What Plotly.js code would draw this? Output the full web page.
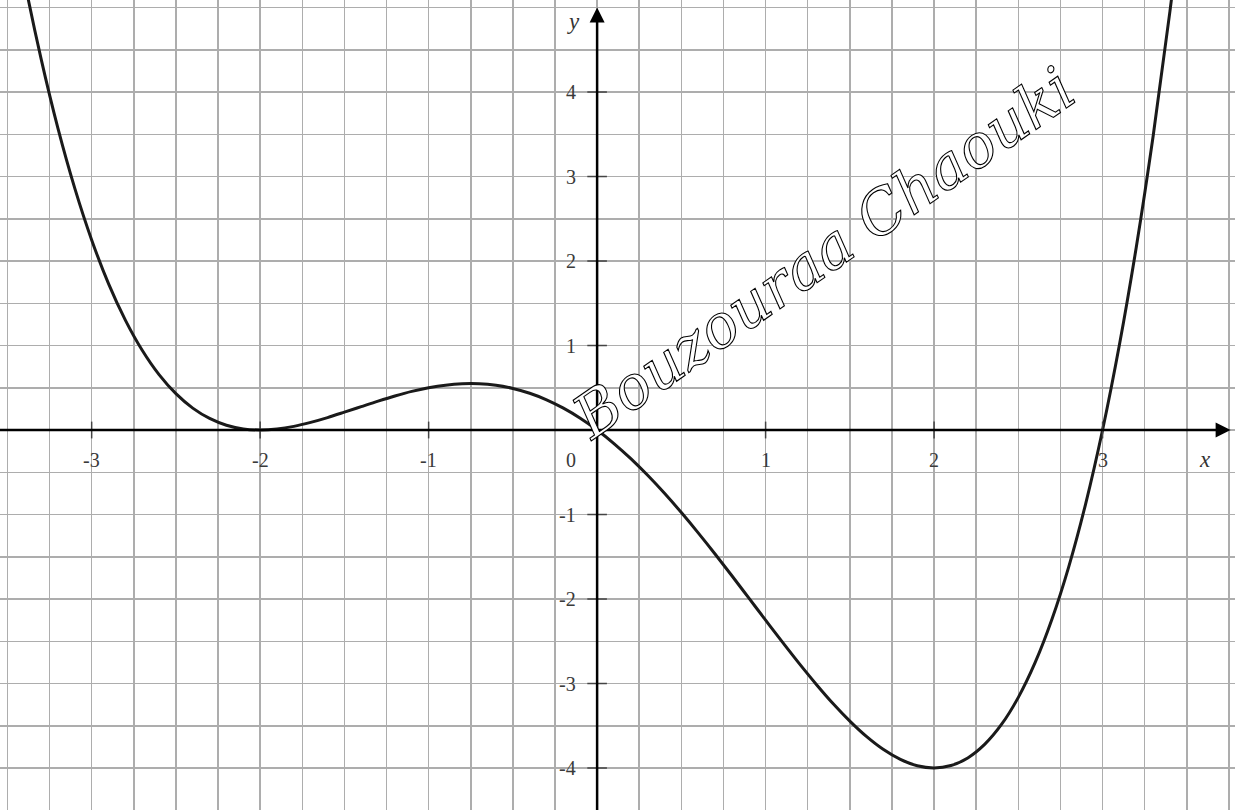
<!DOCTYPE html>
<html>
<head>
<meta charset="utf-8">
<script src="https://cdn.plot.ly/plotly-3.0.1.min.js"></script>
<style>
html,body{margin:0;padding:0;background:#fff;}
#chart{width:1235px;height:810px;}
</style>
</head>
<body>
<div id="chart"></div>
<script>
// Curve values
const curveX = [-3.5, -3.4, -3.3, -3.2, -3.1, -3.0, -2.9, -2.8, -2.7, -2.6, -2.5, -2.4, -2.3, -2.2, -2.1, -2.0,
                -1.9, -1.8, -1.7, -1.6, -1.5, -1.4, -1.3, -1.2, -1.1, -1.0, -0.9, -0.8, -0.7, -0.6, -0.5, -0.4, -0.3, -0.2, -0.1, 0.0,
                0.1, 0.2, 0.3, 0.4, 0.5, 0.6, 0.7, 0.8, 0.9, 1.0, 1.1, 1.2, 1.3, 1.4, 1.5, 1.6, 1.7, 1.8, 1.9, 2.0,
                2.1, 2.2, 2.3, 2.4, 2.5, 2.6, 2.7, 2.8, 2.9, 3.0, 3.1, 3.2, 3.3, 3.4, 3.5];
const curveY = [6.40, 5.33, 4.392, 3.57, 2.860, 2.25, 1.732, 1.30, 0.943, 0.655, 0.430, 0.259, 0.137, 0.057, 0.013, 0.0,
                0.012, 0.043, 0.090, 0.147, 0.211, 0.277, 0.342, 0.403, 0.457, 0.50, 0.531, 0.547, 0.547, 0.529, 0.492, 0.435, 0.358, 0.259, 0.140, 0.0,
                -0.160, -0.339, -0.536, -0.749, -0.977, -1.217, -1.467, -1.725, -1.987, -2.25, -2.511, -2.765, -3.008, -3.237, -3.445, -3.629, -3.782, -3.899, -3.974, -4.0,
                -3.971, -3.881, -3.721, -3.485, -3.164, -2.751, -2.237, -1.613, -0.870, 0.0, 1.008, 2.163, 3.476, 4.957, 6.62];

// Tick labels
const xTickVals = [-3, -2, -1, 1, 2, 3];
const xTickText = ['-3', '-2', '-1', '1', '2', '3'];
const yTickVals = [4, 3, 2, 1, -1, -2, -3, -4];
const yTickText = ['4', '3', '2', '1', '-1', '-2', '-3', '-4'];
const originLabel = '0';
const xAxisLabel = 'x';
const yAxisLabel = 'y';
const watermark = 'Bouzouraa Chaouki';

const labelFont = {family: 'Liberation Serif, Times New Roman, serif', size: 20, color: '#3a3a3a'};

const traces = [
  {
    x: curveX, y: curveY, type: 'scatter', mode: 'lines',
    line: {color: '#1a1a1a', width: 3, shape: 'spline', smoothing: 1},
    hoverinfo: 'skip', cliponaxis: true
  },
  {
    x: xTickVals, y: xTickVals.map(() => 0), type: 'scatter', mode: 'markers',
    marker: {symbol: 'line-ns', size: 12, line: {color: '#444', width: 1.5}},
    hoverinfo: 'skip'
  },
  {
    x: yTickVals.map(() => 0), y: yTickVals, type: 'scatter', mode: 'markers',
    marker: {symbol: 'line-ew', size: 14, line: {color: '#444', width: 1.5}},
    hoverinfo: 'skip'
  }
];

const annotations = [];
xTickVals.forEach((v, i) => annotations.push({
  x: v, y: 0, xref: 'x', yref: 'y', text: xTickText[i], showarrow: false,
  xanchor: 'center', yanchor: 'middle', yshift: -30, font: labelFont
}));
yTickVals.forEach((v, i) => annotations.push({
  x: 0, y: v, xref: 'x', yref: 'y', text: yTickText[i], showarrow: false,
  xanchor: 'right', yanchor: 'middle', xshift: -19, font: labelFont
}));
annotations.push({x: 0, y: 0, xref: 'x', yref: 'y', text: originLabel, showarrow: false,
  xanchor: 'right', yanchor: 'middle', xshift: -19, yshift: -30, font: labelFont});
annotations.push({x: 3.61, y: 0, xref: 'x', yref: 'y', text: '<i>' + xAxisLabel + '</i>', showarrow: false,
  xanchor: 'center', yanchor: 'middle', yshift: -29, font: {family: labelFont.family, size: 23, color: '#333'}});
annotations.push({x: 0, y: 4.84, xref: 'x', yref: 'y', text: '<i>' + yAxisLabel + '</i>', showarrow: false,
  xanchor: 'center', yanchor: 'middle', xshift: -24, font: {family: labelFont.family, size: 23, color: '#333'}});
// axes with arrows
annotations.push({x: 3.76, y: 0, ax: -3.7, ay: 0, xref: 'x', yref: 'y', axref: 'x', ayref: 'y',
  text: '', showarrow: true, arrowhead: 2, arrowsize: 1.2, arrowwidth: 2.5, arrowcolor: '#000'});
annotations.push({x: 0, y: 5.0, ax: 0, ay: -4.7, xref: 'x', yref: 'y', axref: 'x', ayref: 'y',
  text: '', showarrow: true, arrowhead: 2, arrowsize: 1.2, arrowwidth: 2.5, arrowcolor: '#000'});
// watermark
annotations.push({x: 1.34, y: 2.1, xref: 'x', yref: 'y', text: '<i>' + watermark + '</i>', showarrow: false,
  textangle: -35, xanchor: 'center', yanchor: 'middle',
  font: {family: 'DejaVu Serif, serif', size: 60, color: '#ffffff'}});

const layout = {
  width: 1235, height: 810,
  margin: {l: 0, r: 0, t: 0, b: 0, pad: 0},
  paper_bgcolor: '#fff', plot_bgcolor: '#fff',
  showlegend: false,
  xaxis: {range: [-3.544, 3.786], dtick: 0.25, tick0: 0, showgrid: true, gridcolor: '#adadad', gridwidth: 1.5,
          zeroline: false, showticklabels: false, ticks: '', showline: false, fixedrange: true},
  yaxis: {range: [-4.497, 5.089], dtick: 0.5, tick0: 0, showgrid: true, gridcolor: '#adadad', gridwidth: 1.5,
          zeroline: false, showticklabels: false, ticks: '', showline: false, fixedrange: true},
  annotations: annotations
};

Plotly.newPlot('chart', traces, layout, {staticPlot: true, displayModeBar: false}).then(() => {
  document.querySelectorAll('.annotation-text').forEach(t => {
    if (t.textContent.indexOf('Bouzouraa') >= 0) {
      t.style.stroke = '#000';
      t.style.strokeWidth = '1.1px';
    }
  });
});
</script>
</body>
</html>
